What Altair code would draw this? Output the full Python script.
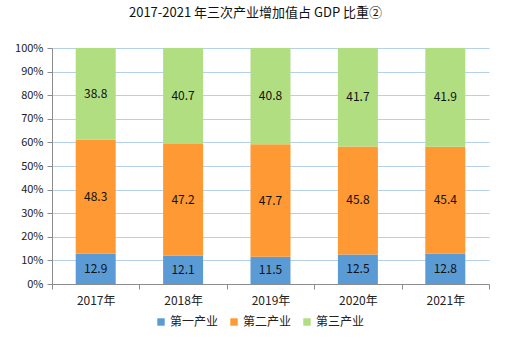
import altair as alt
import pandas as pd

years = ["2017年", "2018年", "2019年", "2020年", "2021年"]
sectors = ["第一产业", "第二产业", "第三产业"]
primary = [12.9, 12.1, 11.5, 12.5, 12.8]
secondary = [48.3, 47.2, 47.7, 45.8, 45.4]
tertiary = [38.8, 40.7, 40.8, 41.7, 41.9]
colors = ["#5b9bd5", "#ff9933", "#b2de82"]

rows = []
for i, y in enumerate(years):
    for j, (s, vals) in enumerate(zip(sectors, [primary, secondary, tertiary])):
        rows.append({"year": y, "sector": s, "value": vals[i], "order": j})
df = pd.DataFrame(rows)

FONT = "Noto Sans CJK SC"

base = alt.Chart(df)

x_enc = alt.X("year:N", sort=years, title=None,
              scale=alt.Scale(paddingInner=0, paddingOuter=0),
              axis=alt.Axis(labelAngle=0, tickBand="extent", domainColor="#8c8c8c",
                            tickColor="#8c8c8c", tickSize=5, labelFont=FONT,
                            labelFontSize=12, labelColor="#222222", labelPadding=6,
                            grid=False))

y_axis = alt.Axis(format=".0%", values=[i / 10 for i in range(11)],
                  labelOverlap=False, title=None,
                  gridColor="#b5d0ea", domainColor="#8c8c8c",
                  tickColor="#8c8c8c", tickSize=5, labelFont=FONT,
                  labelFontSize=11, labelColor="#222222", labelPadding=4)

bars = base.mark_bar(size=40).encode(
    x=x_enc,
    y=alt.Y("value:Q", stack="normalize", title=None,
            scale=alt.Scale(domain=[0, 1]), axis=y_axis),
    color=alt.Color("sector:N", sort=sectors,
                    scale=alt.Scale(domain=sectors, range=colors),
                    legend=alt.Legend(title=None, orient="none", direction="horizontal",
                                      legendX=103, legendY=268, symbolType="square",
                                      symbolSize=55, symbolStrokeWidth=0,
                                      labelFont=FONT, labelFontSize=12,
                                      labelColor="#222222", columnPadding=9,
                                      symbolOffset=0, labelOffset=3)),
    order=alt.Order("order:Q"),
)

labels = base.transform_stack(
    stack="value", groupby=["year"], as_=["v0", "v1"], sort=[alt.SortField("order")],
    offset="normalize"
).transform_calculate(mid="(datum.v0 + datum.v1) / 2").mark_text(
    font=FONT, fontSize=12, color="#111111", baseline="middle"
).encode(
    x=alt.X("year:N", sort=years),
    y=alt.Y("mid:Q", title=None, scale=alt.Scale(domain=[0, 1]), axis=y_axis),
    text=alt.Text("value:Q", format=".1f"),
)

chart = alt.layer(bars, labels).properties(
    width=437, height=236,
    title=alt.TitleParams("2017-2021 年三次产业增加值占 GDP 比重②", font=FONT,
                          fontSize=13, fontWeight="normal", color="#111111",
                          anchor="middle", dx=-15, offset=22),
    autosize=alt.AutoSizeParams(type="none"),
    padding={"left": 52, "top": 48, "right": 33, "bottom": 60},
).configure_view(stroke=None)

chart.save("out.html", embed_options={"renderer": "svg", "actions": False})
